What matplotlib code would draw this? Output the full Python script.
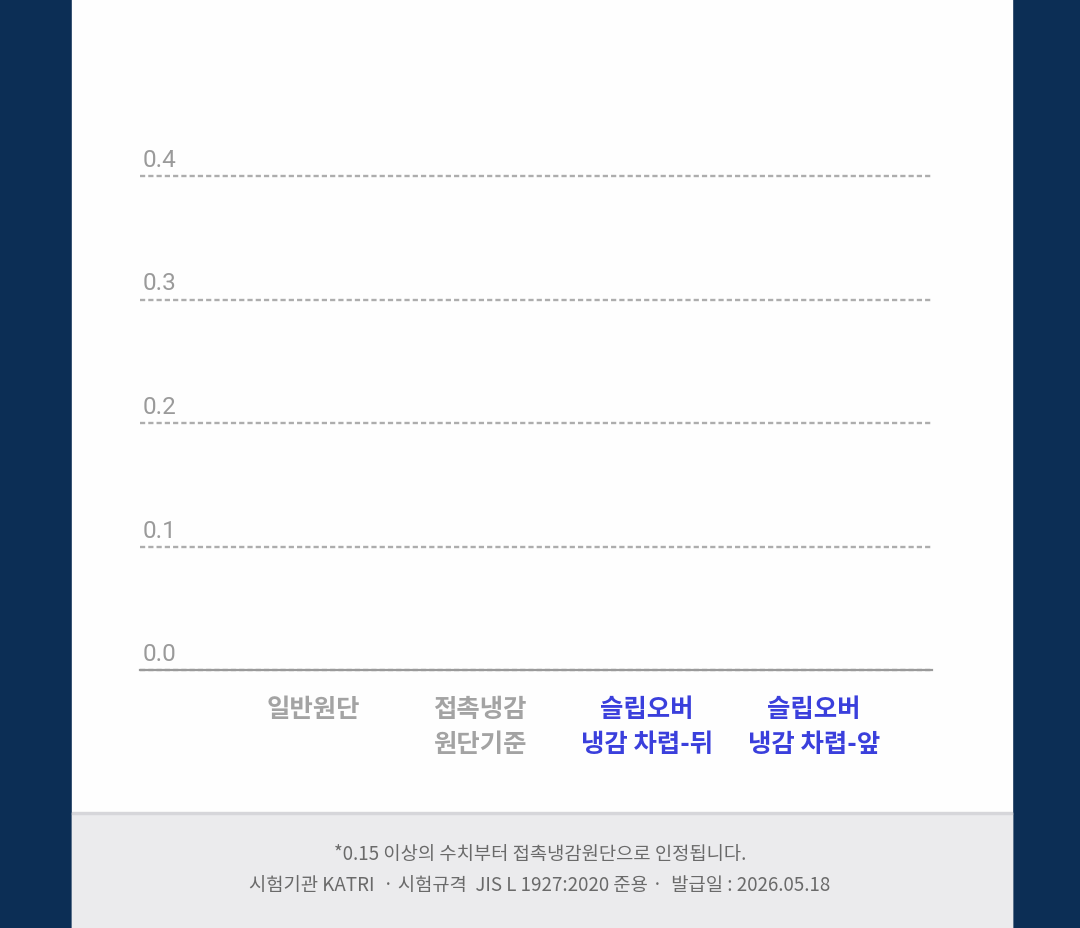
import matplotlib
matplotlib.use("Agg")
import matplotlib.pyplot as plt
from matplotlib.patches import Rectangle
from matplotlib.transforms import blended_transform_factory

plt.rcParams['font.family'] = ['Noto Sans CJK KR', 'DejaVu Sans']

W, H = 1080, 929

# chart data (bars not yet grown in the reference frame)
categories = ["일반원단", "접촉냉감\n원단기준", "슬립오버\n냉감 차렵-뒤", "슬립오버\n냉감 차렵-앞"]
values = [0.0, 0.0, 0.0, 0.0]
cat_colors = ["#a3a3a3", "#a3a3a3", "#3a3fdc", "#3a3fdc"]
yticks = [0.0, 0.1, 0.2, 0.3, 0.4]
ytick_labels = ["0.0", "0.1", "0.2", "0.3", "0.4"]
note_lines = ["*0.15 이상의 수치부터 접촉냉감원단으로 인정됩니다.",
              "시험기관 KATRI  · 시험규격  JIS L 1927:2020 준용 ·  발급일 : 2026.05.18"]

fig = plt.figure(figsize=(W / 100, H / 100), dpi=100)
fig.patch.set_facecolor("#0c2e55")

def px(x0, y0, w, h):
    # pixel box (top-left origin) -> figure fraction
    return (x0 / W, 1 - (y0 + h) / H, w / W, h / H)

# white card and grey footer
l, b, w, h = px(72, 0, 940, 929)
fig.patches.append(Rectangle((l, b), w, h, transform=fig.transFigure, color="#fefefe", zorder=0))
l, b, w, h = px(72, 814, 940, 115)
fig.patches.append(Rectangle((l, b), w, h, transform=fig.transFigure, color="#ebebed", zorder=1))
l, b, w, h = px(72, 813, 940, 2)
fig.patches.append(Rectangle((l, b), w, h, transform=fig.transFigure, color="#d6d6da", zorder=2))

ax = fig.add_axes(px(140, 177, 792, 494))
ax.set_zorder(5)
ax.set_facecolor("none")

x = list(range(len(categories)))
ax.bar(x, values, width=0.5, color=cat_colors, zorder=2)

ax.set_ylim(0, 0.4)
ax.set_xlim(-1.036, 3.707)
ax.set_yticks(yticks)
ax.tick_params(axis="y", left=False, labelleft=False)
ax.yaxis.grid(True, color="#adadad", linewidth=1.7, linestyle=(0, (2.2, 1.3)))
for gl in ax.get_ygridlines():
    gl.set_clip_on(False)
ax.set_axisbelow(True)

for s in ["top", "right", "left"]:
    ax.spines[s].set_visible(False)
ax.spines["bottom"].set_color("#9a9a9a")
ax.spines["bottom"].set_linewidth(1.6)
ax.spines["bottom"].set_zorder(5)

trans = blended_transform_factory(ax.transAxes, ax.transData)
for v, lab in zip(yticks, ytick_labels):
    ax.annotate(lab, xy=(0, v), xycoords=trans, xytext=(3, 10), textcoords="offset pixels",
                ha="left", va="baseline", fontsize=17.5, color="#9a9a9a",
                family=["Roboto", "DejaVu Sans"], annotation_clip=False)

ax.set_xticks(x)
ax.set_xticklabels(categories, fontsize=18.3, fontweight="bold", linespacing=1.36)
ax.tick_params(axis="x", length=0, pad=18)
for t, c in zip(ax.get_xticklabels(), cat_colors):
    t.set_color(c)
    t.set_multialignment("center")

fig.text(540 / W, 1 - 855 / H, note_lines[0], ha="center", va="center", fontsize=13.5, color="#6a6a6a", zorder=6)
fig.text(540 / W, 1 - 886 / H, note_lines[1], ha="center", va="center", fontsize=13.5, color="#6a6a6a", zorder=6)

fig.savefig("out.png", dpi=100)
